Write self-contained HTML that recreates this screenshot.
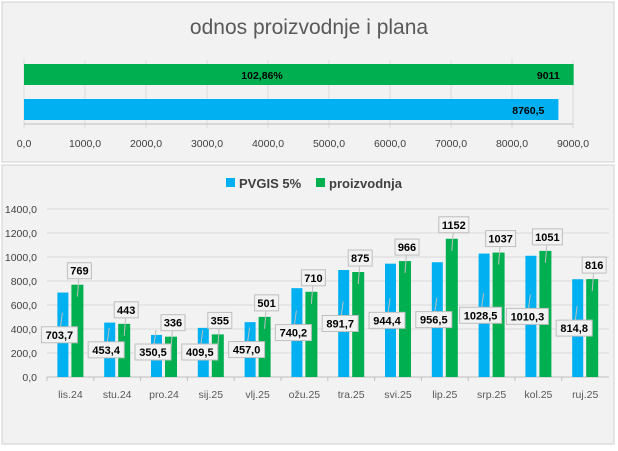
<!DOCTYPE html>
<html><head><meta charset="utf-8"><style>
body{margin:0;background:#fff;font-family:"Liberation Sans",sans-serif;}
svg text{font-family:"Liberation Sans",sans-serif;}
</style></head><body>
<svg width="618" height="446" xmlns="http://www.w3.org/2000/svg">
<rect x="0" y="0" width="618" height="446" fill="#fff"/>
<rect x="2" y="2" width="612" height="160" fill="#f2f2f2" stroke="#d0d0d0"/>
<rect x="2" y="165" width="612" height="279" fill="#f2f2f2" stroke="#d0d0d0"/>
<text x="309" y="34" font-size="21" fill="#595959" text-anchor="middle">odnos proizvodnje i plana</text>
<g id="top"></g>
<g id="bottom"></g>
<g>
<rect x="226" y="178" width="9" height="9" fill="#00b0f0"/>
<text x="239" y="188" font-size="13" font-weight="bold" fill="#404040">PVGIS 5%</text>
<rect x="316" y="178" width="9" height="9" fill="#00b050"/>
<text x="329" y="188" font-size="13" font-weight="bold" fill="#404040">proizvodnja</text>
</g>
</svg>
<script>
const NS="http://www.w3.org/2000/svg";
const topTicks=["0,0","1000,0","2000,0","3000,0","4000,0","5000,0","6000,0","7000,0","8000,0","9000,0"];
const topValues=[9011,8760.5];
const topLabels=["9011","8760,5"];
const topRatio="102,86%";
const categories=["lis.24","stu.24","pro.24","sij.25","vlj.25","ožu.25","tra.25","svi.25","lip.25","srp.25","kol.25","ruj.25"];
const pvgis=[703.7,453.4,350.5,409.5,457.0,740.2,891.7,944.4,956.5,1028.5,1010.3,814.8];
const proizvodnja=[769,443,336,355,501,710,875,966,1152,1037,1051,816];
const pvgisLabels=["703,7","453,4","350,5","409,5","457,0","740,2","891,7","944,4","956,5","1028,5","1010,3","814,8"];
const yTicks=["0,0","200,0","400,0","600,0","800,0","1000,0","1200,0","1400,0"];
function mk(p,tag,at){const e=document.createElementNS(NS,tag);for(const k in at)e.setAttribute(k,at[k]);p.appendChild(e);return e;}
const T=document.getElementById('top');
const tx=v=>24+v*(573-24)/9000;
topTicks.forEach((t,i)=>{const x=tx(i*1000);
 const l=mk(T,'line',{x1:x,x2:x,y1:60,y2:128,stroke:'#d9d9d9'});
 
 
 const e=mk(T,'text',{x:x,y:147,'font-size':10.5,fill:'#404040','text-anchor':'middle'});e.textContent=t;
 
 });
const al=mk(T,'line',{x1:24,x2:573,y1:124,y2:124,stroke:'#bfbfbf'});


const tcol=['#00b050','#00b0f0'],ty=[64,99];
topValues.forEach((v,i)=>{
 const r=mk(T,'rect',{x:24,y:ty[i],width:tx(v)-24,height:21,fill:tcol[i]});
 
 
 const e=mk(T,'text',{x:tx(v)-14,y:ty[i]+15,'font-size':10.5,'font-weight':'bold',fill:'#000','text-anchor':'end'});e.textContent=topLabels[i];
 
 });
const rt=mk(T,'text',{x:262,y:79,'font-size':10.5,'font-weight':'bold',fill:'#000','text-anchor':'middle'});rt.textContent=topRatio;


const B=document.getElementById('bottom');
const y0=377,py=(377-209)/1400,left=47,cw=46.8;
const yv=v=>y0-v*py;
yTicks.forEach((t,i)=>{const y=yv(i*200);
 const l=mk(B,'line',{x1:left,x2:609,y1:y,y2:y,stroke:i?'#d9d9d9':'#bfbfbf'});
 
 
 const e=mk(B,'text',{x:37,y:y+4,'font-size':10.5,fill:'#404040','text-anchor':'end'});e.textContent=t;
 
 });
function box(x,y,txt,name,lx,ly){
 const w=txt.length*6+6;
 const ld=mk(B,'line',{x1:x,y1:y,x2:lx,y2:ly,stroke:'#bfbfbf','stroke-width':1});
 
 
 const r=mk(B,'rect',{x:x-w/2,y:y-8,width:w,height:16,fill:'#f2f2f2',stroke:'#bfbfbf'});
 
 
 const e=mk(B,'text',{x:x,y:y+4,'font-size':11,'font-weight':'bold',fill:'#000','text-anchor':'middle'});e.textContent=txt;
 
 }
categories.forEach((c,i)=>{
 const cx=left+cw*(i+0.5);
 const tk=mk(B,'line',{x1:left+cw*i,x2:left+cw*i,y1:y0,y2:y0+4,stroke:'#bfbfbf'});
 
 
 const bx=cx-13,gx=cx+1;
 const b=mk(B,'rect',{x:bx,y:yv(pvgis[i]),width:11,height:pvgis[i]*py,fill:'#00b0f0'});
 
 
 const g=mk(B,'rect',{x:gx,y:yv(proizvodnja[i]),width:12,height:proizvodnja[i]*py,fill:'#00b050'});
 
 
 const gy=yv(proizvodnja[i])-14;
 box(gx+8,gy,String(proizvodnja[i]),'proizvodnja-value-label',gx+6,gy+26);
 const by=y0-Math.max(pvgis[i]*0.06,25);
 box(bx+2,by,pvgisLabels[i],'pvgis-value-label',bx+5,by-22);
 const e=mk(B,'text',{x:cx,y:398,'font-size':10.5,fill:'#595959','text-anchor':'middle'});e.textContent=c;
 
 });
</script>
</body></html>
